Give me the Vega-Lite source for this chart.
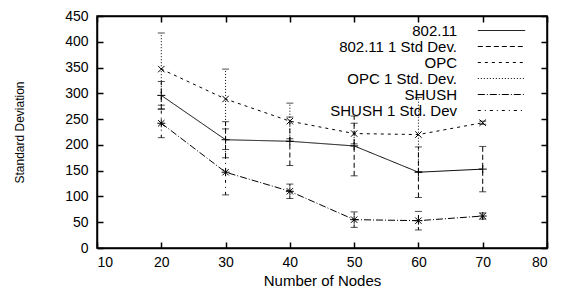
{
  "$schema": "https://vega.github.io/schema/vega-lite/v6.json",
  "width": 450,
  "height": 232,
  "autosize": {"type": "none"},
  "padding": {"left": 97, "top": 16, "right": 18, "bottom": 43},
  "background": "white",
  "config": {
    "view": {"stroke": "black", "strokeWidth": 1.5},
    "font": "Liberation Sans",
    "axis": {
      "grid": false,
      "domainColor": "black",
      "domainWidth": 1.5,
      "tickColor": "black",
      "tickWidth": 1.5,
      "tickSize": -6,
      "labelColor": "black",
      "labelFont": "Liberation Sans",
      "labelFontSize": 14,
      "titleFont": "Liberation Sans",
      "titleFontWeight": "normal",
      "titleColor": "black"
    }
  },
  "data": {
    "values": [
      {"n": 20, "s": "802.11", "e": "802.11 1 Std Dev.", "m": 296, "lo": 269, "hi": 323},
      {"n": 30, "s": "802.11", "e": "802.11 1 Std Dev.", "m": 210, "lo": 175, "hi": 245},
      {"n": 40, "s": "802.11", "e": "802.11 1 Std Dev.", "m": 207, "lo": 160, "hi": 254},
      {"n": 50, "s": "802.11", "e": "802.11 1 Std Dev.", "m": 198, "lo": 140, "hi": 256},
      {"n": 60, "s": "802.11", "e": "802.11 1 Std Dev.", "m": 147, "lo": 98, "hi": 196},
      {"n": 70, "s": "802.11", "e": "802.11 1 Std Dev.", "m": 153, "lo": 109, "hi": 197},
      {"n": 20, "s": "OPC", "e": "OPC 1 Std. Dev.", "m": 347, "lo": 277, "hi": 417},
      {"n": 30, "s": "OPC", "e": "OPC 1 Std. Dev.", "m": 289, "lo": 231, "hi": 347},
      {"n": 40, "s": "OPC", "e": "OPC 1 Std. Dev.", "m": 246, "lo": 212, "hi": 281},
      {"n": 50, "s": "OPC", "e": "OPC 1 Std. Dev.", "m": 222, "lo": 202, "hi": 242},
      {"n": 60, "s": "OPC", "e": "OPC 1 Std. Dev.", "m": 220, "lo": 148, "hi": 292},
      {"n": 70, "s": "OPC", "e": "OPC 1 Std. Dev.", "m": 243, "lo": 240, "hi": 246},
      {"n": 20, "s": "SHUSH", "e": "SHUSH 1 Std. Dev", "m": 242, "lo": 214, "hi": 270},
      {"n": 30, "s": "SHUSH", "e": "SHUSH 1 Std. Dev", "m": 147, "lo": 103, "hi": 191},
      {"n": 40, "s": "SHUSH", "e": "SHUSH 1 Std. Dev", "m": 110, "lo": 96, "hi": 124},
      {"n": 50, "s": "SHUSH", "e": "SHUSH 1 Std. Dev", "m": 55, "lo": 40, "hi": 70},
      {"n": 60, "s": "SHUSH", "e": "SHUSH 1 Std. Dev", "m": 53, "lo": 35, "hi": 71},
      {"n": 70, "s": "SHUSH", "e": "SHUSH 1 Std. Dev", "m": 62, "lo": 56, "hi": 68}
    ]
  },
  "layer": [
    {
      "mark": {"type": "rule", "color": "black", "strokeWidth": 1},
      "encoding": {
        "x": {"field": "n", "type": "quantitative", "scale": {"domain": [10, 80], "nice": false},
              "axis": {"values": [10, 20, 30, 40, 50, 60, 70, 80], "title": "Number of Nodes", "titleFontSize": 15, "labelPadding": 13, "titlePadding": 4}},
        "y": {"field": "lo", "type": "quantitative", "scale": {"domain": [0, 450], "nice": false},
              "axis": {"values": [0, 50, 100, 150, 200, 250, 300, 350, 400, 450], "title": "Standard Deviation", "titleFontSize": 12, "labelPadding": 15, "titlePadding": 38}},
        "y2": {"field": "hi"},
        "strokeDash": {
          "field": "e", "type": "nominal",
          "scale": {
            "domain": ["802.11", "802.11 1 Std Dev.", "OPC", "OPC 1 Std. Dev.", "SHUSH", "SHUSH 1 Std. Dev"],
            "range": [[1, 0], [5, 3], [3, 4], [1, 2], [7, 2, 1, 2], [3, 4, 1, 4]]
          },
          "legend": {
            "title": null,
            "orient": "none",
            "legendX": 397,
            "legendY": 7,
            "padding": 0,
            "symbolType": "M-4,0L4,0",
            "symbolSize": 140,
            "symbolStrokeColor": "black",
            "symbolStrokeWidth": 1,
            "labelAlign": "right",
            "labelOffset": -52,
            "labelFontSize": 15,
            "labelColor": "black",
            "labelFont": "Liberation Sans",
            "rowPadding": -2.4,
            "labelLimit": 300
          }
        }
      }
    },
    {
      "mark": {"type": "tick", "orient": "horizontal", "color": "black", "size": 7, "thickness": 1},
      "encoding": {
        "x": {"field": "n", "type": "quantitative", "axis": {"labels": false, "title": "", "values": [10, 20, 30, 40, 50, 60, 70, 80]}},
        "y": {"field": "hi", "type": "quantitative", "axis": {"labels": false, "title": "", "values": [0, 50, 100, 150, 200, 250, 300, 350, 400, 450]}}
      }
    },
    {
      "mark": {"type": "tick", "orient": "horizontal", "color": "black", "size": 7, "thickness": 1},
      "encoding": {
        "x": {"field": "n", "type": "quantitative", "axis": null},
        "y": {"field": "lo", "type": "quantitative", "axis": null}
      }
    },
    {
      "mark": {"type": "line", "color": "black", "strokeWidth": 1},
      "encoding": {
        "x": {"field": "n", "type": "quantitative", "axis": null},
        "y": {"field": "m", "type": "quantitative", "axis": null},
        "detail": {"field": "s"},
        "strokeDash": {"field": "s", "type": "nominal"}
      }
    },
    {
      "mark": {"type": "point", "filled": false, "color": "black", "strokeWidth": 1, "size": 64, "opacity": 1},
      "encoding": {
        "x": {"field": "n", "type": "quantitative", "axis": null},
        "y": {"field": "m", "type": "quantitative", "axis": null},
        "shape": {
          "field": "s", "type": "nominal",
          "scale": {
            "domain": ["802.11", "OPC", "SHUSH"],
            "range": ["M-1,0L1,0M0,-1L0,1", "M-0.8,-0.8L0.8,0.8M-0.8,0.8L0.8,-0.8", "M-0.8,-0.8L0.8,0.8M-0.8,0.8L0.8,-0.8M-1,0L1,0M0,-1L0,1"]
          },
          "legend": null
        }
      }
    }
  ],
  "resolve": {"axis": {"x": "independent", "y": "independent"}}
}
